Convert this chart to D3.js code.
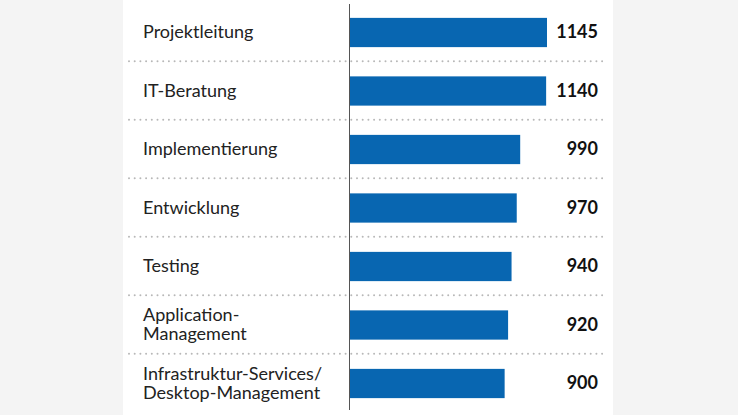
<!DOCTYPE html>
<html>
<head>
<meta charset="utf-8">
<script src="https://cdn.jsdelivr.net/npm/d3@7"></script>
<style>
  html, body { margin: 0; padding: 0; background: #f4f4f4; }
  svg { display: block; }
</style>
</head>
<body>
<svg id="chart" width="738" height="415"></svg>
<script>
const categories = [
  ["Projektleitung"],
  ["IT-Beratung"],
  ["Implementierung"],
  ["Entwicklung"],
  ["Testing"],
  ["Application-", "Management"],
  ["Infrastruktur-Services/", "Desktop-Management"]
];
const values = [1145, 1140, 990, 970, 940, 920, 900];

const svg = d3.select("#chart");
const W = 738, H = 415;

svg.append("rect").attr("x", 0).attr("y", 0).attr("width", W).attr("height", H).attr("fill", "#f4f4f4");
svg.append("rect").attr("x", 123).attr("y", 0).attr("width", 490).attr("height", H).attr("fill", "#ffffff");

const keys = categories.map((c, i) => i);
const y = d3.scaleBand().domain(keys).range([3.25, 412.75]).paddingInner(0.5).paddingOuter(0.25);
const x = d3.scaleLinear().domain([0, 1145]).range([349, 547]);

// separators
const seps = keys.slice(0, -1);
svg.selectAll("line.sep").data(seps).enter().append("line")
  .attr("class", "sep")
  .attr("x1", 129).attr("x2", 603)
  .attr("y1", d => y(d) + y.bandwidth() + y.step() * 0.25 - 0.5)
  .attr("y2", d => y(d) + y.bandwidth() + y.step() * 0.25 - 0.5)
  .attr("stroke", "#b8b8b8")
  .attr("stroke-width", 2)
  .attr("stroke-linecap", "round")
  .attr("stroke-dasharray", "0,5.7");

// bars
svg.selectAll("rect.bar").data(values).enter().append("rect")
  .attr("class", "bar")
  .attr("x", x(0))
  .attr("y", (d, i) => y(i))
  .attr("width", d => x(d) - x(0))
  .attr("height", y.bandwidth())
  .attr("fill", "#0866b1");

// axis line
svg.append("line").attr("x1", 349.5).attr("x2", 349.5).attr("y1", 4).attr("y2", 410)
  .attr("stroke", "#555").attr("stroke-width", 1);

// category labels
const labels = svg.selectAll("text.cat").data(categories).enter().append("text")
  .attr("class", "cat")
  .attr("x", 143)
  .attr("font-family", "Lato, 'Open Sans', sans-serif")
  .attr("font-size", 18)
  .attr("fill", "#222");
labels.each(function(lines, i) {
  const cy = y(i) + y.bandwidth() / 2;
  const t = d3.select(this);
  if (lines.length === 1) {
    t.append("tspan").attr("x", 143).attr("y", cy + 5.5).text(lines[0]);
  } else {
    lines.forEach((ln, j) => {
      t.append("tspan").attr("x", 143).attr("y", cy - 4 + j * 19).text(ln);
    });
  }
});

// value labels
svg.selectAll("text.val").data(values).enter().append("text")
  .attr("class", "val")
  .attr("x", 598)
  .attr("y", (d, i) => y(i) + y.bandwidth() / 2 + 5.5)
  .attr("text-anchor", "end")
  .attr("font-family", "Lato, 'Open Sans', sans-serif")
  .attr("font-weight", "bold")
  .attr("font-size", 18)
  .attr("fill", "#111")
  .text(d => d);
</script>
</body>
</html>
